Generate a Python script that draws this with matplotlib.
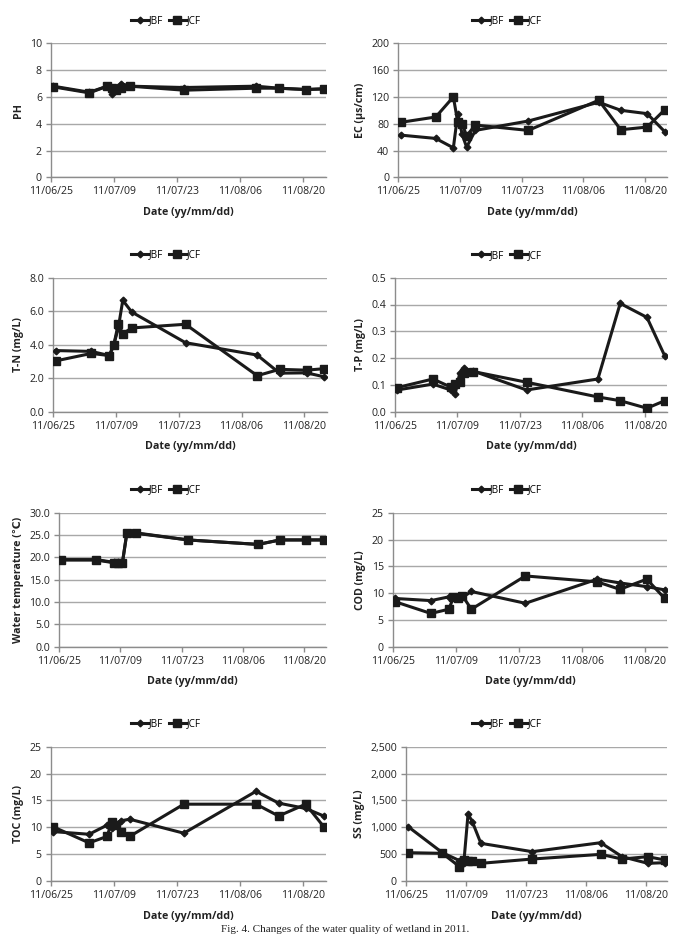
import matplotlib
matplotlib.use("Agg")
import matplotlib.pyplot as plt
import matplotlib.dates as mdates
import matplotlib.ticker as mticker
import pandas as pd
import numpy as np

plt.rcParams['font.family'] = ['Open Sans', 'DejaVu Sans']

# ---------------- data ----------------
sample_dates = ['2011-06-25', '2011-07-03', '2011-07-07', '2011-07-08', '2011-07-09',
                '2011-07-10', '2011-07-12', '2011-07-24', '2011-08-09', '2011-08-14',
                '2011-08-20', '2011-08-24']
tick_dates = ['2011-06-25', '2011-07-09', '2011-07-23', '2011-08-06', '2011-08-20']

ph_jbf = [6.8, 6.35, 6.8, 6.25, 6.6, 7.0, 6.8, 6.7, 6.8, 6.65, 6.55, 6.6]
ph_jcf = [6.75, 6.3, 6.8, 6.7, 6.55, 6.65, 6.8, 6.5, 6.65, 6.65, 6.55, 6.6]

ec_jbf = [63, 58, 44, 95, 64, 45, 70, 84, 112, 100, 95, 68]
ec_jcf = [82, 90, 120, 82, 80, 62, 78, 70, 115, 71, 75, 101]

tn_jbf = [3.65, 3.6, 3.35, 4.0, 5.0, 6.65, 5.95, 4.12, 3.38, 2.3, 2.32, 2.08]
tn_jcf = [3.03, 3.48, 3.35, 3.98, 5.25, 4.65, 5.0, 5.22, 2.15, 2.53, 2.48, 2.57]

tp_jbf = [0.081, 0.103, 0.081, 0.066, 0.143, 0.162, 0.152, 0.081, 0.122, 0.404, 0.352, 0.208]
tp_jcf = [0.09, 0.122, 0.092, 0.103, 0.11, 0.145, 0.15, 0.11, 0.055, 0.041, 0.013, 0.041]

wt_jbf = [19.5, 19.5, 18.9, 18.9, 18.9, 25.5, 25.5, 23.9, 22.9, 23.9, 23.9, 23.9]
wt_jcf = [19.4, 19.4, 18.8, 18.8, 18.8, 25.4, 25.4, 23.9, 22.9, 23.9, 23.9, 23.9]

cod_jbf = [9.0, 8.6, 9.3, 9.2, 9.2, 9.2, 10.3, 8.1, 12.6, 11.9, 11.2, 10.6]
cod_jcf = [8.4, 6.2, 7.0, 9.2, 9.0, 9.5, 7.0, 13.2, 12.1, 10.7, 12.6, 9.0]

toc_jbf = [9.2, 8.7, 10.4, 9.8, 10.7, 11.2, 11.5, 8.9, 16.7, 14.5, 13.5, 12.1]
toc_jcf = [10.1, 7.1, 8.3, 11.0, 10.4, 9.2, 8.3, 14.3, 14.3, 12.1, 14.3, 10.1]

ss_jbf = [1011, 527, 380, 330, 1247, 1104, 701, 546, 713, 453, 329, 341]
ss_jcf = [527, 515, 267, 391, 378, 378, 329, 409, 496, 409, 453, 391]

series_names = ['JBF', 'JCF']
ylabels = ['PH', 'EC (\u03bcs/cm)', 'T-N (mg/L)', 'T-P (mg/L)',
           'Water temperature (\u2103)', 'COD (mg/L)', 'TOC (mg/L)', 'SS (mg/L)']
xlabel_text = 'Date (yy/mm/dd)'
caption = 'Fig. 4. Changes of the water quality of wetland in 2011.'

# ---------------- layout ----------------
W, H = 676, 935
fig = plt.figure(figsize=(W / 100, H / 100), dpi=100)
fig.patch.set_facecolor('white')

def rect(x0, y0, x1, y1):
    return [x0 / W, 1 - y1 / H, (x1 - x0) / W, (y1 - y0) / H]

panels = [
    dict(r=(51, 43.3, 326, 177.3), jbf=ph_jbf, jcf=ph_jcf, yl=ylabels[0], ymax=10, step=2, fmt='{:.0f}', leg=(166, 20.5)),
    dict(r=(398.3, 43.3, 667, 177.3), jbf=ec_jbf, jcf=ec_jcf, yl=ylabels[1], ymax=200, step=40, fmt='{:.0f}', leg=(507, 20.5)),
    dict(r=(53.3, 277.7, 326.7, 411.7), jbf=tn_jbf, jcf=tn_jcf, yl=ylabels[2], ymax=8, step=2, fmt='{:.1f}', leg=(166, 255)),
    dict(r=(395, 277.7, 667, 411.7), jbf=tp_jbf, jcf=tp_jcf, yl=ylabels[3], ymax=0.5, step=0.1, fmt='{:.1f}', leg=(507, 255.5)),
    dict(r=(59, 512.7, 326, 646.7), jbf=wt_jbf, jcf=wt_jcf, yl=ylabels[4], ymax=30, step=5, fmt='{:.1f}', leg=(166, 490)),
    dict(r=(392.7, 512.7, 667, 646.7), jbf=cod_jbf, jcf=cod_jcf, yl=ylabels[5], ymax=25, step=5, fmt='{:.0f}', leg=(507, 490)),
    dict(r=(50.7, 746.7, 326, 881), jbf=toc_jbf, jcf=toc_jcf, yl=ylabels[6], ymax=25, step=5, fmt='{:.0f}', leg=(166, 724)),
    dict(r=(406, 746.7, 667, 881), jbf=ss_jbf, jcf=ss_jcf, yl=ylabels[7], ymax=2500, step=500, fmt='{:,.0f}', leg=(507, 724)),
]

x = pd.to_datetime(sample_dates) + pd.Timedelta(hours=12)
ticks = pd.to_datetime(tick_dates)
xmin = pd.Timestamp('2011-06-25')
xmax = pd.Timestamp('2011-08-25')

line_col = '#1a1a1a'
axis_col = '#8c8c8c'
grid_col = '#a8a8a8'
fs_tick = 7.6

for p in panels:
    ax = fig.add_axes(rect(*p['r']))
    ax.plot(x, p['jcf'], color=line_col, lw=2.2, marker='s', ms=5.6, label=series_names[1], zorder=3)
    ax.plot(x, p['jbf'], color=line_col, lw=2.2, marker='D', ms=3.4, label=series_names[0], zorder=4)
    ax.set_xlim(xmin, xmax)
    ax.set_ylim(0, p['ymax'])
    yt = np.arange(0, p['ymax'] + p['step'] / 2, p['step'])
    ax.set_yticks(yt)
    fmt = p['fmt']
    ax.yaxis.set_major_formatter(mticker.FuncFormatter(lambda v, pos, f=fmt: f.format(v)))
    ax.set_xticks(ticks)
    ax.xaxis.set_major_formatter(mdates.DateFormatter('%y/%m/%d'))
    ax.grid(axis='y', color=grid_col, lw=1.0)
    ax.set_axisbelow(True)
    for s in ['top', 'right']:
        ax.spines[s].set_visible(False)
    for s in ['left', 'bottom']:
        ax.spines[s].set_color(axis_col)
        ax.spines[s].set_linewidth(1.0)
    ax.tick_params(axis='both', colors=axis_col, labelcolor='#222222', labelsize=fs_tick,
                   length=3.5, width=1.0, direction='out')
    ax.tick_params(axis='x', pad=3)
    ax.tick_params(axis='y', pad=3)
    ax.set_ylabel(p['yl'], fontsize=7.7, fontweight='bold', color='#222222', labelpad=4)
    ax.set_xlabel(xlabel_text, fontsize=7.7, fontweight='bold', color='#222222', labelpad=7)
    h, l = ax.get_legend_handles_labels()
    lx, ly = p['leg']
    ax.legend(h[::-1], l[::-1], loc='center', bbox_to_anchor=(lx / W, 1 - ly / H),
              bbox_transform=fig.transFigure, ncol=2, frameon=False, fontsize=7.2,
              handlelength=1.7, handletextpad=0.1, columnspacing=0.5, borderpad=0)

fig.text(0.51, 1.0 / H, caption, ha='center', va='bottom', fontsize=8,
         family=['Liberation Serif', 'DejaVu Serif'], color='#222222')

fig.savefig('out.png', dpi=100, facecolor='white')
